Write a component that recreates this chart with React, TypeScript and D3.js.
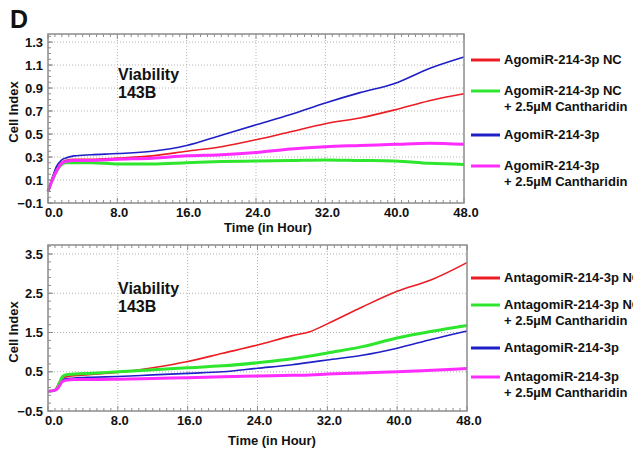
import React from "react";
import * as d3 from "d3";

// ---------- data ----------
const topTimes = [0, 0.5, 1, 1.5, 2, 3, 5, 8, 12, 16, 20, 24, 28, 32, 36, 40, 44, 48];
const topRed = [0, 0.12, 0.2, 0.25, 0.27, 0.28, 0.28, 0.29, 0.31, 0.35, 0.39, 0.45, 0.52, 0.59, 0.64, 0.71, 0.79, 0.85];
const topGreen = [0, 0.1, 0.18, 0.23, 0.25, 0.25, 0.25, 0.24, 0.24, 0.25, 0.26, 0.265, 0.27, 0.275, 0.27, 0.265, 0.245, 0.235];
const topBlue = [0, 0.12, 0.22, 0.27, 0.29, 0.31, 0.32, 0.33, 0.35, 0.4, 0.49, 0.58, 0.67, 0.77, 0.86, 0.94, 1.07, 1.17];
const topMagenta = [0, 0.1, 0.18, 0.24, 0.26, 0.27, 0.27, 0.28, 0.29, 0.31, 0.32, 0.34, 0.37, 0.39, 0.4, 0.41, 0.42, 0.41];

const botTimes = [0, 0.8, 1.2, 1.6, 2, 3, 5, 8, 12, 16, 20, 24, 28, 30, 32, 36, 40, 44, 48];
const botRed = [0, 0.03, 0.2, 0.33, 0.37, 0.4, 0.43, 0.48, 0.6, 0.76, 0.97, 1.18, 1.42, 1.52, 1.72, 2.15, 2.55, 2.85, 3.28];
const botGreen = [0, 0.03, 0.15, 0.36, 0.42, 0.44, 0.46, 0.5, 0.55, 0.6, 0.65, 0.73, 0.83, 0.9, 0.98, 1.14, 1.36, 1.53, 1.68];
const botBlue = [0, 0.03, 0.12, 0.28, 0.32, 0.34, 0.36, 0.38, 0.42, 0.46, 0.5, 0.59, 0.68, 0.74, 0.8, 0.92, 1.1, 1.33, 1.54];
const botMagenta = [0, 0.03, 0.1, 0.24, 0.28, 0.3, 0.3, 0.31, 0.33, 0.35, 0.37, 0.39, 0.41, 0.42, 0.44, 0.47, 0.5, 0.54, 0.58];

const xTicks = [0, 8, 16, 24, 32, 40, 48];
const topYTicks = [-0.1, 0.1, 0.3, 0.5, 0.7, 0.9, 1.1, 1.3];
const botYTicks = [-0.5, 0.5, 1.5, 2.5, 3.5];

const topLegend = [
  ["AgomiR-214-3p NC"],
  ["AgomiR-214-3p NC", "+ 2.5µM Cantharidin"],
  ["AgomiR-214-3p"],
  ["AgomiR-214-3p", "+ 2.5µM Cantharidin"],
];
const botLegend = [
  ["AntagomiR-214-3p NC"],
  ["AntagomiR-214-3p NC", "+ 2.5µM Cantharidin"],
  ["AntagomiR-214-3p"],
  ["AntagomiR-214-3p", "+ 2.5µM Cantharidin"],
];

const COLORS = ["#ec1c24", "#2ee62e", "#1f1fc8", "#ff2cff"];
const WIDTHS = [1.6, 3, 1.6, 3];
const DRAW_ORDER = [0, 2, 1, 3];

const FONT = "'Liberation Sans', Arial, Helvetica, sans-serif";

type PanelProps = {
  times: number[];
  series: number[][];
  yTicks: number[];
  yMinorStep: number;
  yMax: number;
  x0: number;
  x1: number;
  yTop: number;
  yBot: number;
  legend: string[][];
  legendY: number[];
  titleX: number;
  titleY: number;
  yTitleC: number;
  labelY: number;
};

function Panel(p: PanelProps) {
  const x = d3.scaleLinear().domain([0, 48]).range([p.x0, p.x1]);
  const yMin = p.yTicks[0];
  const y = d3.scaleLinear().domain([yMin, p.yMax]).range([p.yBot, p.yTop]);
  const line = d3
    .line<number>()
    .x((_, i) => x(p.times[i]))
    .y((v) => y(v))
    .curve(d3.curveMonotoneX);

  const xMinor = d3.range(0, 48.001, 0.8);
  const yMinor = d3.range(yMin, p.yMax, p.yMinorStep);
  const fmt = d3.format(".1f");
  const grid = "#b5b5b5";
  const axisCol = "#8c8c8c";

  return (
    <g>
      {/* grid */}
      {p.yTicks.slice(1).map((t) => (
        <line key={"gy" + t} x1={p.x0} x2={p.x1} y1={y(t)} y2={y(t)} stroke={grid} strokeWidth={1} strokeDasharray="1,2" />
      ))}
      {xTicks.slice(1, -1).map((t) => (
        <line key={"gx" + t} x1={x(t)} x2={x(t)} y1={p.yTop} y2={p.yBot} stroke={grid} strokeWidth={1} strokeDasharray="1,2" />
      ))}
      {/* minor ticks */}
      {xMinor.map((t, i) => (
        <g key={"xm" + i}>
          <line x1={x(t)} x2={x(t)} y1={p.yBot} y2={p.yBot - (i % 10 === 0 ? 5 : 3)} stroke={axisCol} strokeWidth={1} />
          <line x1={x(t)} x2={x(t)} y1={p.yTop} y2={p.yTop + (i % 10 === 0 ? 5 : 3)} stroke={axisCol} strokeWidth={1} />
        </g>
      ))}
      {yMinor.map((t, i) => (
        <line key={"ym" + i} x1={p.x0} x2={p.x0 + 3} y1={y(t)} y2={y(t)} stroke={axisCol} strokeWidth={1} />
      ))}
      {p.yTicks.map((t) => (
        <line key={"yM" + t} x1={p.x0} x2={p.x0 + 5} y1={y(t)} y2={y(t)} stroke={axisCol} strokeWidth={1} />
      ))}
      {/* series */}
      {DRAW_ORDER.map((si) => (
        <path key={"s" + si} d={line(p.series[si]) || ""} fill="none" stroke={COLORS[si]} strokeWidth={WIDTHS[si]} strokeLinejoin="round" />
      ))}
      {/* border */}
      <rect x={p.x0} y={p.yTop} width={p.x1 - p.x0} height={p.yBot - p.yTop} fill="none" stroke={axisCol} strokeWidth={1.5} />
      {/* tick labels */}
      {p.yTicks.map((t) => (
        <text key={"yl" + t} x={p.x0 - 5} y={y(t) + 4.5} textAnchor="end" fontSize={13} fontWeight="bold" fill="#111">
          {fmt(t)}
        </text>
      ))}
      {xTicks.map((t, i) => (
        <text key={"xl" + t} x={x(t) + (i === 0 ? 6 : 2)} y={p.yBot + 14} textAnchor="middle" fontSize={13} fontWeight="bold" fill="#111">
          {fmt(t)}
        </text>
      ))}
      {/* axis titles */}
      <text x={p.titleX} y={p.titleY} textAnchor="middle" fontSize={13} fontWeight="bold" fill="#111">
        Time (in Hour)
      </text>
      <text
        transform={`translate(18,${p.yTitleC}) rotate(-90)`}
        textAnchor="middle"
        fontSize={13}
        fontWeight="bold"
        fill="#111"
      >
        Cell Index
      </text>
      {/* annotation */}
      <text x={118} y={p.labelY} fontSize={16} fontWeight="bold" fill="#111">
        Viability
      </text>
      <text x={118} y={p.labelY + 18} fontSize={16} fontWeight="bold" fill="#111">
        143B
      </text>
      {/* legend */}
      {p.legend.map((lines, i) => (
        <g key={"lg" + i}>
          <line x1={471} x2={500} y1={p.legendY[i]} y2={p.legendY[i]} stroke={COLORS[i]} strokeWidth={3} />
          {lines.map((s, j) => (
            <text key={j} x={504} y={p.legendY[i] + 4 + j * 16} fontSize={13} fontWeight="bold" fill="#111">
              {s}
            </text>
          ))}
        </g>
      ))}
    </g>
  );
}

export default function App() {
  return (
    <svg
      width={633}
      height={449}
      style={{ position: "absolute", left: 0, top: 0, background: "#fff", fontFamily: FONT }}
    >
      <rect width={633} height={449} fill="#fff" />
      <text x={10} y={28} fontSize={25} fontWeight="bold" fill="#111">
        D
      </text>
      <Panel
        times={topTimes}
        series={[topRed, topGreen, topBlue, topMagenta]}
        yTicks={topYTicks}
        yMinorStep={0.05}
        yMax={1.37}
        x0={48}
        x1={464}
        yTop={34}
        yBot={203}
        legend={topLegend}
        legendY={[60, 91, 135, 166]}
        titleX={268}
        titleY={232}
        yTitleC={112}
        labelY={80}
      />
      <Panel
        times={botTimes}
        series={[botRed, botGreen, botBlue, botMagenta]}
        yTicks={botYTicks}
        yMinorStep={0.2}
        yMax={3.73}
        x0={48}
        x1={467}
        yTop={245}
        yBot={411}
        legend={botLegend}
        legendY={[278, 305, 348, 377]}
        titleX={272}
        titleY={445}
        yTitleC={332}
        labelY={294}
      />
    </svg>
  );
}
